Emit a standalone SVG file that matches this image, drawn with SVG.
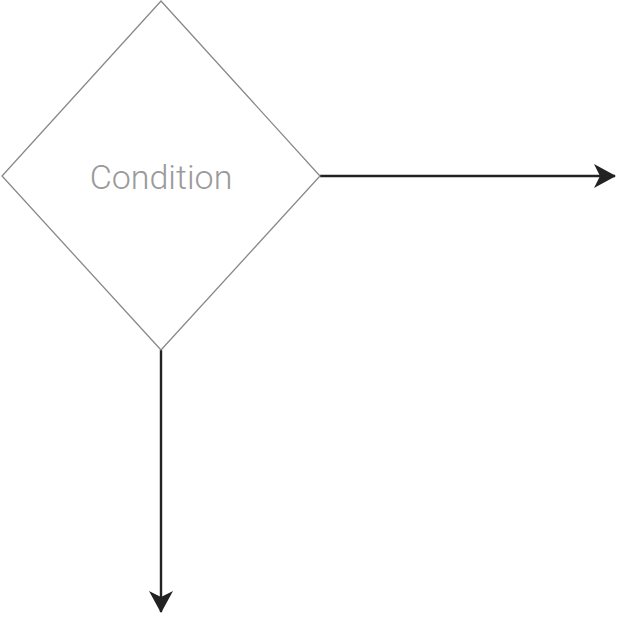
<svg xmlns="http://www.w3.org/2000/svg" width="640" height="640" viewBox="0 0 640 640">
<style>
.node{fill:#fff;stroke:#888;stroke-width:1.3}
.lbl{font-family:Roboto,"Liberation Sans",sans-serif;font-weight:300;font-size:34px;fill:#9a9a9a}
.edge{stroke:#222;stroke-width:2.4;fill:none}
</style>
<defs>
<marker id="arr" viewBox="0 0 22 24" refX="21" refY="12" markerWidth="22" markerHeight="24" markerUnits="userSpaceOnUse" orient="auto">
<path d="M0,0 L22,12 L0,24 L6,12 Z" fill="#222"/>
</marker>
</defs>
<rect width="640" height="640" fill="#fff"/>
<g id="connectors">
<path class="edge" d="M320,176 H615" marker-end="url(#arr)"/>
<path class="edge" d="M161,350 V612" marker-end="url(#arr)"/>
</g>
<g id="condition">
<polygon class="node" points="161,1 320,176 161,350 2,176"/>
<text class="lbl" x="161" y="177" text-anchor="middle" dominant-baseline="central">Condition</text>
</g>
</svg>
